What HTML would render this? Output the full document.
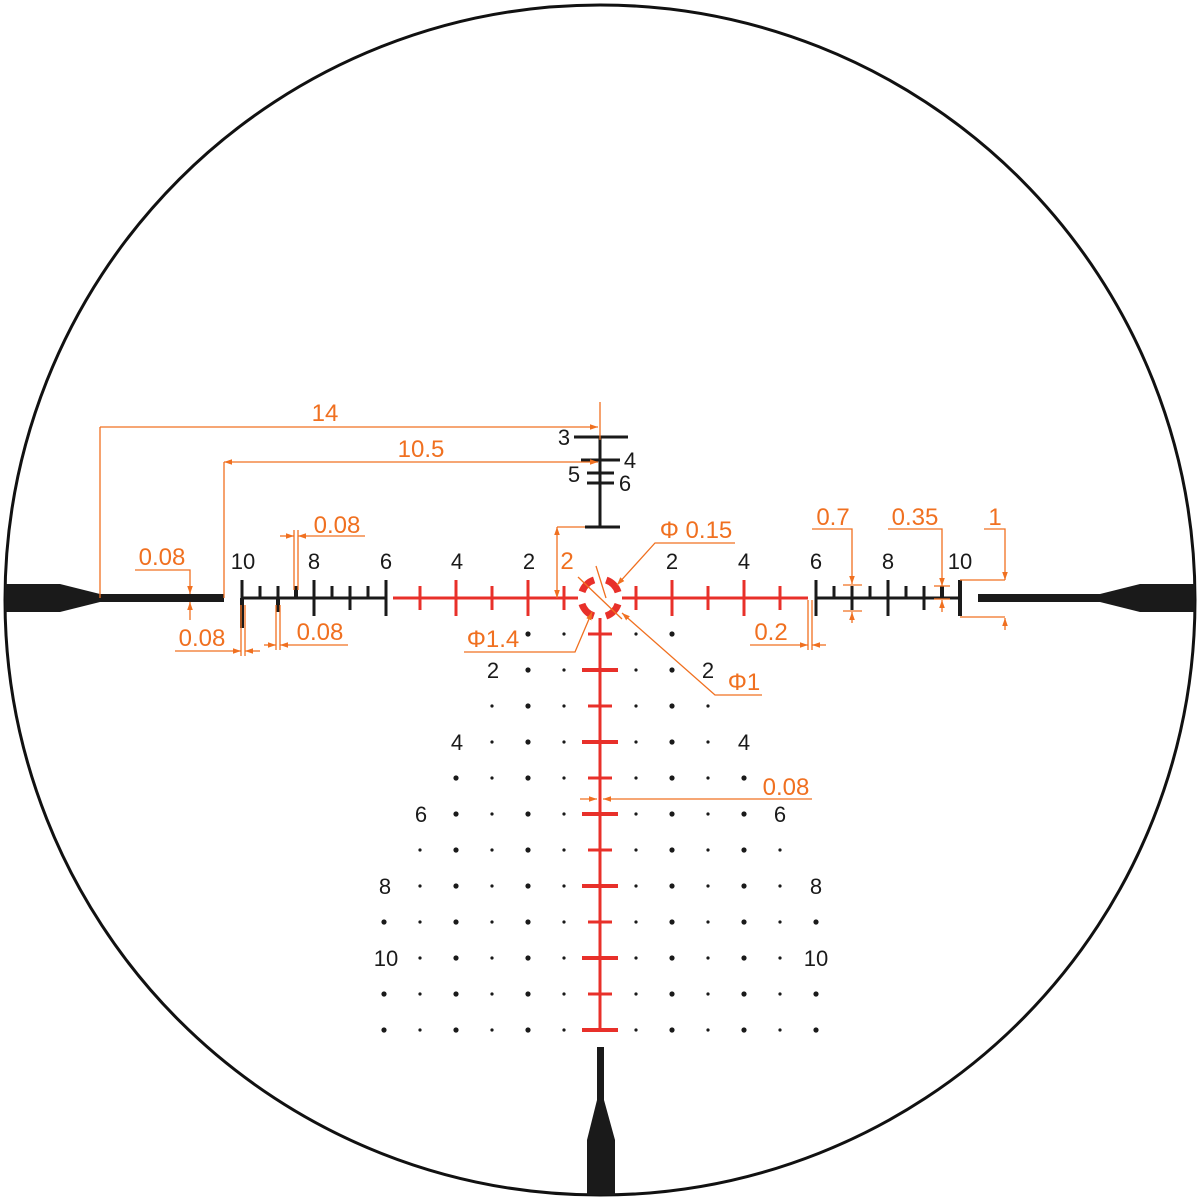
<!DOCTYPE html>
<html><head><meta charset="utf-8"><style>html,body{margin:0;padding:0;background:#fff}svg{display:block}</style></head>
<body>
<svg id="s" width="1200" height="1200" viewBox="0 0 1200 1200" xmlns="http://www.w3.org/2000/svg" font-family="Liberation Sans, DejaVu Sans, sans-serif">
<defs>
<marker id="a" viewBox="0 0 10 10" refX="10" refY="5" markerWidth="8" markerHeight="8" orient="auto-start-reverse" markerUnits="userSpaceOnUse"><path d="M0,1.5 L10,5 L0,8.5z" fill="#f07020"/></marker>
</defs>
<circle cx="600" cy="600" r="595" fill="none" stroke="#111" stroke-width="3"/>
<path d="M5,584 L60,584 L100,594 L224,594 L224,602 L100,602 L60,612 L5,612Z" fill="#1a1a1a"/>
<path d="M1195,584 L1140,584 L1100,594 L978,594 L978,602 L1100,602 L1140,612 L1195,612Z" fill="#1a1a1a"/>
<path d="M597,1047 L604,1047 L604,1100 L615,1140 L615,1195 L587,1195 L587,1140 L597,1100Z" fill="#1a1a1a"/>
<g id="blk" stroke="#1a1a1a" stroke-width="3" fill="none">
<line x1="242" y1="598" x2="386" y2="598"/>
<line x1="816" y1="598" x2="960" y2="598"/>
<line x1="600" y1="437" x2="600" y2="527"/>
<line x1="574" y1="437" x2="628" y2="437"/>
<line x1="581" y1="460" x2="620" y2="460"/>
<line x1="587" y1="473" x2="614" y2="473"/>
<line x1="587" y1="483" x2="614" y2="483"/>
<line x1="585" y1="527" x2="620" y2="527"/>
</g>
<g id="red" stroke="#e8302a" stroke-width="3" fill="none">
<line x1="393" y1="598" x2="578" y2="598"/>
<line x1="622" y1="598" x2="808" y2="598"/>
<line x1="600" y1="618" x2="600" y2="1030"/>
</g>
<circle cx="600" cy="598" r="19" fill="none" stroke="#e8302a" stroke-width="7" stroke-dasharray="17.5 12.35" stroke-dashoffset="-6.2"/>
<g id="dots" fill="#1a1a1a"></g>
<g font-size="22" fill="#1a1a1a" text-anchor="middle">
<text x="243" y="569">10</text><text x="314" y="569">8</text><text x="386" y="569">6</text>
<text x="457" y="569">4</text><text x="529" y="569">2</text>
<text x="672" y="569">2</text><text x="744" y="569">4</text><text x="816" y="569">6</text><text x="888" y="569">8</text><text x="960" y="569">10</text>
<text x="564" y="445">3</text><text x="630" y="468">4</text><text x="574" y="482">5</text><text x="625" y="491">6</text>
<text x="493" y="678">2</text><text x="708" y="678">2</text>
<text x="457" y="750">4</text><text x="744" y="750">4</text>
<text x="421" y="822">6</text><text x="780" y="822">6</text>
<text x="385" y="894">8</text><text x="816" y="894">8</text>
<text x="386" y="966">10</text><text x="816" y="966">10</text>
</g>
<g stroke="#f07020" stroke-width="1.3" fill="none">
<line x1="600" y1="402" x2="600" y2="440"/>
<line x1="100" y1="427" x2="100" y2="598"/>
<line x1="100" y1="427" x2="598" y2="427" marker-end="url(#a)"/>
<line x1="224" y1="462" x2="224" y2="598"/>
<line x1="224" y1="462" x2="598" y2="462" marker-start="url(#a)" marker-end="url(#a)"/>
<polyline points="135,570 190,570 190,594" marker-end="url(#a)"/>
<line x1="190" y1="620" x2="190" y2="602" marker-end="url(#a)"/>
<line x1="241" y1="605" x2="241" y2="656"/><line x1="245" y1="605" x2="245" y2="656"/>
<line x1="175" y1="651" x2="241" y2="651" marker-end="url(#a)"/>
<line x1="260" y1="651" x2="245" y2="651" marker-end="url(#a)"/>
<line x1="276" y1="605" x2="276" y2="650"/><line x1="280" y1="605" x2="280" y2="650"/>
<line x1="264" y1="645" x2="276" y2="645" marker-end="url(#a)"/>
<line x1="348" y1="645" x2="280" y2="645" marker-end="url(#a)"/>
<line x1="294" y1="530" x2="294" y2="590"/><line x1="298" y1="530" x2="298" y2="590"/>
<line x1="280" y1="536" x2="294" y2="536" marker-end="url(#a)"/>
<line x1="365" y1="536" x2="298" y2="536" marker-end="url(#a)"/>
<polyline points="585,527 557,527"/>
<line x1="557" y1="527" x2="557" y2="598" marker-start="url(#a)" marker-end="url(#a)"/>
<line x1="578" y1="577" x2="622" y2="619"/>
<polyline points="735,543 655,543 617,585" marker-end="url(#a)"/>
<line x1="596" y1="566" x2="606" y2="598"/>
<polyline points="464,652 575,652 592,612" marker-end="url(#a)"/>
<polyline points="762,695 715,695 622,613" marker-end="url(#a)"/>
<line x1="808" y1="600" x2="808" y2="650"/><line x1="812" y1="600" x2="812" y2="650"/>
<line x1="750" y1="645" x2="808" y2="645" marker-end="url(#a)"/>
<line x1="826" y1="645" x2="812" y2="645" marker-end="url(#a)"/>
<polyline points="812,529 852,529 852,584" marker-end="url(#a)"/>
<line x1="843" y1="585" x2="862" y2="585"/><line x1="843" y1="611" x2="862" y2="611"/>
<line x1="852" y1="623" x2="852" y2="612" marker-end="url(#a)"/>
<polyline points="888,529 942,529 942,586" marker-end="url(#a)"/>
<line x1="934" y1="586" x2="950" y2="586"/><line x1="934" y1="599" x2="950" y2="599"/>
<line x1="942" y1="612" x2="942" y2="600" marker-end="url(#a)"/>
<polyline points="984,529 1005,529 1005,580" marker-end="url(#a)"/>
<line x1="960" y1="580" x2="1005" y2="580"/><line x1="960" y1="617" x2="1005" y2="617"/>
<line x1="1005" y1="630" x2="1005" y2="618" marker-end="url(#a)"/>
<line x1="580" y1="799" x2="597" y2="799" marker-end="url(#a)"/>
<line x1="812" y1="799" x2="603" y2="799" marker-end="url(#a)"/>
</g>
<g font-size="24" fill="#f07020" text-anchor="middle">
<text x="325" y="421">14</text><text x="421" y="457">10.5</text>
<text x="162" y="565">0.08</text><text x="202" y="646">0.08</text><text x="320" y="640">0.08</text><text x="337" y="533">0.08</text>
<text x="567" y="569">2</text>
<text x="696" y="538">Φ 0.15</text><text x="493" y="647">Φ1.4</text><text x="744" y="690">Φ1</text>
<text x="771" y="640">0.2</text><text x="833" y="525">0.7</text><text x="915" y="525">0.35</text><text x="995" y="525">1</text>
<text x="786" y="795">0.08</text>
</g>
<script>
(function(){
var ns="http://www.w3.org/2000/svg";
function el(p,t,a){var e=document.createElementNS(ns,t);for(var k in a)e.setAttribute(k,a[k]);p.appendChild(e);return e;}
var blk=document.getElementById('blk'),red=document.getElementById('red'),dots=document.getElementById('dots');
var L=[[242,580,616],[260,586,598],[278,586,598],[296,586,598],[314,580,616],[332,586,598],[350,586,610],[368,586,598],[386,580,616]];
L.forEach(function(t){el(blk,'line',{x1:t[0],y1:t[1],x2:t[0],y2:t[2]});});
el(blk,'line',{x1:242,y1:598,x2:242,y2:628,'stroke-width':4});
el(blk,'line',{x1:278,y1:598,x2:278,y2:612,'stroke-width':4});
el(blk,'line',{x1:296,y1:586,x2:296,y2:598,'stroke-width':4});
var R=[[816,580,616],[834,586,598],[852,586,610],[870,586,598],[888,580,616],[906,586,598],[924,586,610],[942,586,598],[960,580,616]];
R.forEach(function(t){el(blk,'line',{x1:t[0],y1:t[1],x2:t[0],y2:t[2]});});
el(blk,'line',{x1:942,y1:586,x2:942,y2:598,'stroke-width':4});
el(blk,'line',{x1:960,y1:580,x2:960,y2:616,'stroke-width':4});
for(var k=1;k<=5;k++){var h=(k%2==0)?18:12;[600-36*k,600+36*k].forEach(function(x){el(red,'line',{x1:x,y1:598-h,x2:x,y2:598+h});});}
for(var k=1;k<=12;k++){var y=598+36*k;var w=(k%2==0)?18:12;el(red,'line',{x1:600-w,y1:y,x2:600+w,y2:y,'stroke-width':(k%2==0)?4:3});}
var rows={1:2,2:2,3:3,4:3,5:4,6:4,7:5,8:5,9:6,10:5,11:6,12:6};
for(var k=1;k<=12;k++){var y=598+36*k;var n=rows[k];
 for(var c=1;c<=n;c++){var r=(c%2==0)?2.6:1.6;el(dots,'circle',{cx:600-36*c,cy:y,r:r});el(dots,'circle',{cx:600+36*c,cy:y,r:r});}}
})();
</script>
</svg>
</body></html>
